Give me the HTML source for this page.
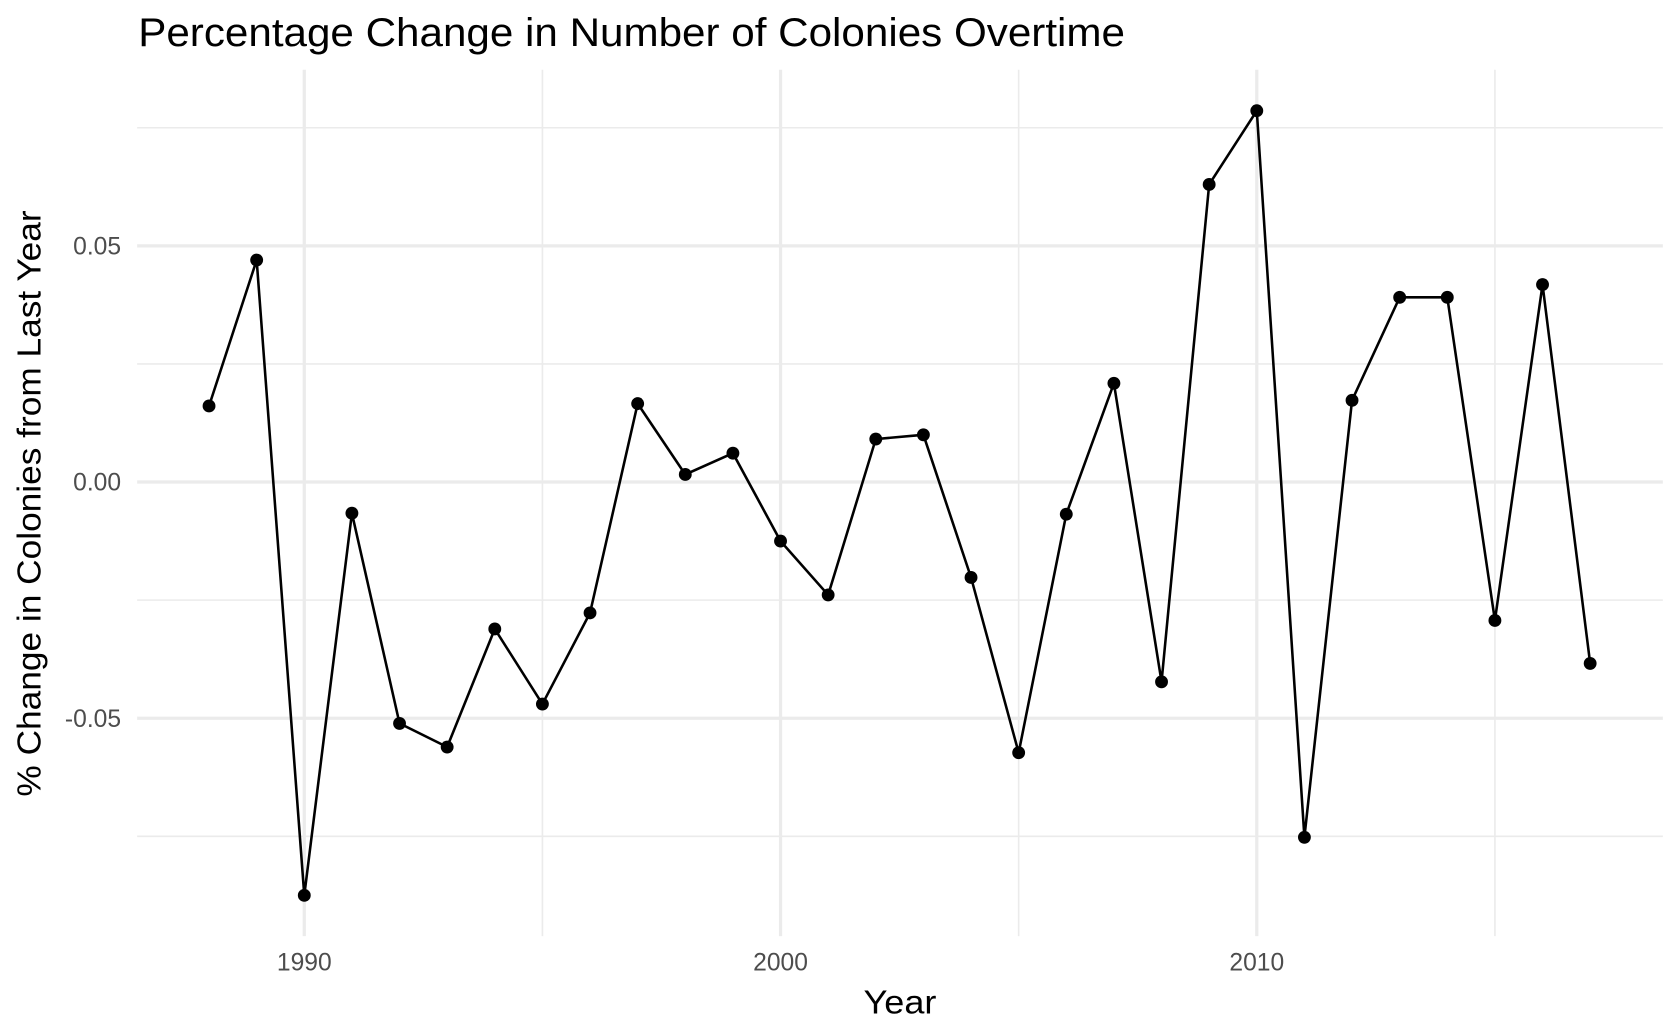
<!DOCTYPE html>
<html><head><meta charset="utf-8"><style>
html,body{margin:0;padding:0;background:#fff;}
svg{display:block;font-family:"Liberation Sans",Arial,sans-serif;}
</style></head><body>
<svg id="chart" width="1680" height="1036" viewBox="0 0 1568 965" preserveAspectRatio="none">
<g id="grid"></g>
<g id="series"></g>
<g id="axes"></g>
<text x="129" y="43" font-size="37" textLength="921" lengthAdjust="spacingAndGlyphs" fill="#000">Percentage Change in Number of Colonies Overtime</text>
<text x="840" y="944" font-size="31" textLength="68" lengthAdjust="spacingAndGlyphs" text-anchor="middle" fill="#000">Year</text>
<text transform="translate(38,469) rotate(-90)" font-size="31" textLength="546" lengthAdjust="spacingAndGlyphs" text-anchor="middle" fill="#000">% Change in Colonies from Last Year</text>
</svg>
<script>
const years = [1988,1989,1990,1991,1992,1993,1994,1995,1996,1997,1998,1999,2000,2001,2002,2003,2004,2005,2006,2007,2008,2009,2010,2011,2012,2013,2014,2015,2016,2017];
const changes = [0.0161,0.047,-0.0875,-0.0066,-0.0511,-0.0561,-0.0311,-0.047,-0.0277,0.0166,0.0016,0.0061,-0.0125,-0.0239,0.0091,0.01,-0.0202,-0.0573,-0.0068,0.0209,-0.0423,0.063,0.0786,-0.0752,0.0173,0.0391,0.0391,-0.0293,0.0418,-0.0384];
const xTicks = [1990,2000,2010];
const xMinor = [1995,2005,2015];
const yTicks = [-0.05,0,0.05];
const yTickLabels = ["-0.05","0.00","0.05"];
const yMinor = [-0.075,-0.025,0.025,0.075];

const NS = "http://www.w3.org/2000/svg";
const x = v => 284 + (v - 1990) * 44.45;
const y = v => 449 - v * 4400;
const L = 128, R = 1552, T = 65, B = 872;
function mk(tag, attrs, parent){const e=document.createElementNS(NS,tag);for(const k in attrs)e.setAttribute(k,attrs[k]);parent.appendChild(e);return e;}
const grid=document.getElementById('grid'), series=document.getElementById('series'), axes=document.getElementById('axes');
yMinor.forEach(v=>{const l=mk('line',{x1:L,x2:R,y1:y(v),y2:y(v),stroke:'#ebebeb','stroke-width':1.5},grid);

});
xMinor.forEach(v=>{const l=mk('line',{x1:x(v),x2:x(v),y1:T,y2:B,stroke:'#ebebeb','stroke-width':1.5},grid);

});
yTicks.forEach((v,i)=>{const l=mk('line',{x1:L,x2:R,y1:y(v),y2:y(v),stroke:'#ebebeb','stroke-width':3},grid);


const t=mk('text',{x:113,y:y(v)+8,'font-size':23,fill:'#4d4d4d','text-anchor':'end'},axes);t.textContent=yTickLabels[i];

});
xTicks.forEach(v=>{const l=mk('line',{x1:x(v),x2:x(v),y1:T,y2:B,stroke:'#ebebeb','stroke-width':3},grid);


const t=mk('text',{x:x(v),y:904,'font-size':23,fill:'#4d4d4d','text-anchor':'middle'},axes);t.textContent=v;

});
const pts=years.map((yr,i)=>x(yr)+','+y(changes[i])).join(' ');
const line=mk('polyline',{points:pts,fill:'none',stroke:'#000','stroke-width':2.4},series);


years.forEach((yr,i)=>{const c=mk('circle',{cx:x(yr),cy:y(changes[i]),r:6,fill:'#000'},series);

});
</script>
</body></html>
